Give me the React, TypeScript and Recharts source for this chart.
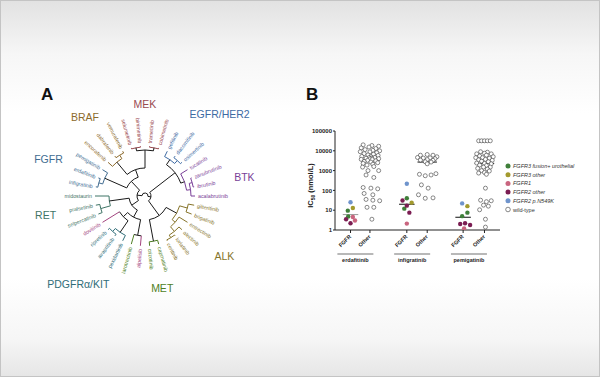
import React from 'react';
import {
  RadarChart, Radar, PolarAngleAxis, Customized,
  ScatterChart, Scatter, XAxis, YAxis, ReferenceLine, Label,
} from 'recharts';

// ---------- panel A: inhibitor tree ----------
const drugs = [
  'alpelisib', 'larotrectinib', 'pexidartinib', 'avapritinib', 'ripretinib', 'dovitinib',
  'selpercatinib', 'pralsetinib', 'midostaurin',
  'infigratinib', 'erdafitinib', 'pemigatinib',
  'encorafenib', 'dabrafenib', 'vemurafenib',
  'selumetinib', 'binimetinib', 'trametinib', 'cobimetinib',
  'gefitinib', 'dacomitinib', 'osimertinib', 'tucatinib',
  'zanubrutinib', 'ibrutinib', 'acalabrutinib',
  'gilteritinib', 'brigatinib', 'entrectinib', 'alectinib', 'lorlatinib', 'ceritinib',
  'capmatinib', 'crizotinib',
];
const drugFamily = [
  'other', 'TRK', 'PDGFRα/KIT', 'PDGFRα/KIT', 'PDGFRα/KIT', 'other',
  'RET', 'RET', 'RET',
  'FGFR', 'FGFR', 'FGFR',
  'BRAF', 'BRAF', 'BRAF',
  'MEK', 'MEK', 'MEK', 'MEK',
  'EGFR/HER2', 'EGFR/HER2', 'EGFR/HER2', 'HER2',
  'BTK', 'BTK', 'BTK',
  'ALK', 'ALK', 'ALK', 'ALK', 'ALK', 'ALK',
  'MET', 'MET',
];
const families = ['MEK', 'BRAF', 'EGFR/HER2', 'FGFR', 'BTK', 'RET', 'ALK', 'MET', 'PDGFRα/KIT'];

// [node radius, clade, ...children]
const tree: any = [3, '',
  [8, '',
    [16, '',
      [24, '',
        [40, '', 'alpelisib', 'larotrectinib'],
        [30, '',
          [44, 'PDGFRα/KIT', 'pexidartinib', [48, 'PDGFRα/KIT', 'avapritinib', 'ripretinib']],
          'dovitinib']],
      [36, 'RET', [46, 'RET', 'selpercatinib', 'pralsetinib'], 'midostaurin']],
    [20, '',
      [44, 'FGFR', [48, 'FGFR', 'infigratinib', 'erdafitinib'], 'pemigatinib'],
      [28, '',
        [44, 'BRAF', 'encorafenib', [48, 'BRAF', 'dabrafenib', 'vemurafenib']],
        [46, '', [49, 'MEK', 'selumetinib', 'binimetinib'], [49, 'MEK', 'trametinib', 'cobimetinib']]]]],
  [6, '',
    [38, '',
      [44, 'EGFR/HER2', 'gefitinib', [48, 'EGFR/HER2', 'dacomitinib', 'osimertinib']],
      [42, 'BTK', 'tucatinib', [46, 'BTK', [49, 'BTK', 'zanubrutinib', 'ibrutinib'], 'acalabrutinib']]],
    [24, '',
      [36, 'ALK', [44, 'ALK', 'gilteritinib', 'brigatinib'],
        [40, 'ALK', 'entrectinib', [46, 'ALK', 'alectinib', [49, 'ALK', 'lorlatinib', 'ceritinib']]]],
      [46, 'MET', 'capmatinib', 'crizotinib']]]];

const familyColor: Record<string, string> = {
  MEK: '#9a4a50', BRAF: '#8c6a2c', 'EGFR/HER2': '#3d6aa3', FGFR: '#416c91', BTK: '#7a3f98',
  HER2: '#7a3f98', RET: '#3f7466', ALK: '#86742a', MET: '#4f7f24', TRK: '#4f7f24',
  'PDGFRα/KIT': '#2f6d78', other: '#a3457f',
};

// ---------- panel B: IC50 scatter ----------
const groupPos = [0.8, 1.8, 3.7, 4.75, 6.6, 7.7];
const groupTicks = ['FGFR', 'Other', 'FGFR', 'Other', 'FGFR', 'Other'];
const drugNames = ['erdafitinib', 'infigratinib', 'pemigatinib'];
const medians = [6, 3400, 20, 2700, 4.4, 2300];
const yTicks = [1, 10, 100, 1000, 10000, 100000];

// [group, offset, IC50]
const fgfr3Fusion = [[0, -0.14, 9.5], [0, -0.12, 4.8], [2, 0, 40], [2, -0.13, 12], [4, 0.22, 7.5], [4, -0.05, 5]];
const fgfr3Other = [[0, 0.12, 13], [2, 0.25, 24], [4, 0.22, 16]];
const fgfr1 = [[0, 0.12, 4.5], [0, 0.23, 3.0], [2, 0, 2.1], [4, 0.05, 1.2]];
const fgfr2Other = [[0, -0.23, 3.5], [0, 0, 2.2], [2, -0.22, 31], [2, 0, 17], [2, 0.13, 7.5], [4, -0.15, 2.0], [4, 0.1, 2.2], [4, 0.36, 1.8]];
const fgfr2N549K = [[0, 0, 25], [2, 0, 215], [4, -0.05, 22]];
const wtErdafitinib = [
  [1, -0.35, 20000], [1, 0.1, 18500], [1, 0.45, 17000], [1, -0.05, 15500], [1, -0.45, 14000], [1, 0.3, 13000],
  [1, -0.25, 11500], [1, 0.15, 10500], [1, 0.5, 10000], [1, -0.5, 9000], [1, 0, 8800], [1, 0.35, 8000],
  [1, -0.3, 7200], [1, 0.18, 6700], [1, -0.1, 6200], [1, 0.42, 5800], [1, -0.42, 5200], [1, 0.05, 5000],
  [1, 0.25, 4600], [1, -0.05, 4500], [1, 0.1, 4200], [1, -0.2, 4200], [1, 0, 3900], [1, 0.45, 4000],
  [1, -0.45, 3700], [1, 0.12, 3600], [1, -0.12, 3300], [1, 0.3, 3100], [1, -0.3, 2900], [1, 0.05, 2700],
  [1, 0.4, 2500], [1, -0.35, 2300], [1, 0.15, 2100], [1, -0.15, 1900], [1, 0.2, 1600], [1, -0.38, 1500],
  [1, -0.1, 1000], [1, 0.45, 1000], [1, -0.2, 600], [1, 0.2, 450], [1, -0.35, 140], [1, 0.05, 130],
  [1, 0.4, 120], [1, -0.3, 70], [1, 0.15, 60], [1, -0.2, 35], [1, 0.15, 32], [1, 0.5, 30],
  [1, -0.15, 14], [1, 0.2, 14], [1, 0.1, 3.5],
];
const wtInfigratinib = [
  [3, -0.35, 6000], [3, 0, 6500], [3, 0.3, 6000], [3, 0.5, 5000], [3, -0.5, 4600], [3, -0.2, 4300],
  [3, 0.15, 4400], [3, 0.4, 4000], [3, -0.35, 3400], [3, 0, 3600], [3, 0.3, 3300], [3, -0.1, 2800],
  [3, 0.2, 2700], [3, 0, 2200], [3, -0.4, 650], [3, -0.1, 550], [3, 0.2, 600], [3, 0.45, 700],
  [3, -0.3, 190], [3, 0.05, 130], [3, -0.45, 60], [3, -0.1, 40], [3, 0.3, 42],
];
const wtPemigatinib = [
  [5, -0.3, 32000], [5, -0.15, 32000], [5, 0, 32000], [5, 0.15, 32000], [5, 0.3, 32000],
  [5, -0.2, 9000], [5, 0.15, 8500], [5, -0.4, 7000], [5, 0, 7500], [5, 0.35, 7000], [5, -0.25, 5500],
  [5, 0.1, 6000], [5, 0.45, 5000], [5, -0.45, 4500], [5, -0.1, 4500], [5, 0.25, 4200], [5, -0.3, 3500],
  [5, 0.05, 3700], [5, 0.4, 3300], [5, -0.15, 3000], [5, 0.2, 2800], [5, -0.4, 2400], [5, 0, 2300],
  [5, 0.35, 2200], [5, -0.25, 1900], [5, 0.1, 1800], [5, -0.05, 1500], [5, 0.3, 1500], [5, -0.35, 1300],
  [5, 0.15, 1200], [5, -0.15, 1000], [5, 0.25, 950], [5, 0, 800], [5, -0.3, 750], [5, 0.1, 650],
  [5, 0.05, 130], [5, -0.2, 32], [5, 0.1, 27], [5, 0.35, 30], [5, -0.05, 18], [5, 0.2, 16],
  [5, -0.25, 10.5], [5, 0.05, 3.5], [5, 0.05, 1.4],
];

const series = [
  { name: 'FGFR3 fusion+ urothelial', pts: fgfr3Fusion, color: '#3f7f3a', italic: true },
  { name: 'FGFR3 other', pts: fgfr3Other, color: '#a39a2e', italic: true },
  { name: 'FGFR1', pts: fgfr1, color: '#c9657f', italic: true },
  { name: 'FGFR2 other', pts: fgfr2Other, color: '#7b1d52', italic: true },
  { name: 'FGFR2 p.N549K', pts: fgfr2N549K, color: '#6f94cc', italic: true },
  { name: 'wild-type', pts: [...wtErdafitinib, ...wtInfigratinib, ...wtPemigatinib], color: '', italic: false },
];

// ---------- tree drawing ----------
const CX = 145;
const CY = 146;
const LEAF_R = 50;
const LABEL_R = 53;
const STEP = 360 / drugs.length;
const START = 180 + drugs.indexOf('midostaurin') * STEP;
const leafAngle = (i: number) => START - i * STEP;
const pt = (r: number, a: number) => {
  const t = (a * Math.PI) / 180;
  return [CX + r * Math.cos(t), CY - r * Math.sin(t)];
};

function drawNode(node: any, out: any[]): { a: number; r: number } {
  if (typeof node === 'string') {
    return { a: leafAngle(drugs.indexOf(node)), r: LEAF_R };
  }
  const [r, clade, ...kids] = node;
  const col = clade ? familyColor[clade] : '#1a1a1a';
  const pos = kids.map((k: any) => drawNode(k, out));
  const aMax = Math.max(...pos.map((p: any) => p.a));
  const aMin = Math.min(...pos.map((p: any) => p.a));
  const [x1, y1] = pt(r, aMax);
  const [x2, y2] = pt(r, aMin);
  out.push(
    <path key={out.length} d={`M${x1},${y1}A${r},${r} 0 ${aMax - aMin > 180 ? 1 : 0} 1 ${x2},${y2}`}
      fill="none" stroke={col} strokeWidth={1} />,
  );
  pos.forEach((p: any, j: number) => {
    const kid = kids[j];
    const c = typeof kid === 'string' ? familyColor[drugFamily[drugs.indexOf(kid)]] : col;
    const [a1, b1] = pt(r, p.a);
    const [a2, b2] = pt(p.r, p.a);
    out.push(<line key={out.length} x1={a1} y1={b1} x2={a2} y2={b2} stroke={c} strokeWidth={1} />);
  });
  return { a: (aMax + aMin) / 2, r };
}

// tucatinib (HER2) sits under the EGFR/HER2 heading
const inFamily = (f: string, i: number) =>
  drugFamily[i] === f || (f === 'EGFR/HER2' && drugFamily[i] === 'HER2');

const TreeBranches = () => {
  const out: any[] = [];
  drawNode(tree, out);
  const labels = families.map((f) => {
    const idx = drugs.map((d, i) => (inFamily(f, i) ? i : -1)).filter((i) => i >= 0);
    const a = leafAngle(idx.reduce((s, i) => s + i, 0) / idx.length);
    const w = f.length * 6.2;
    const r = 92 + (w / 2) * Math.abs(Math.cos((a * Math.PI) / 180));
    const [x, y] = pt(r, a);
    return (
      <text key={f} x={x} y={y} textAnchor="middle" dominantBaseline="central" fontSize={10.5} fill={familyColor[f]}>
        {f}
      </text>
    );
  });
  return <g>{out}{labels}</g>;
};

const LeafTick = (props: any) => {
  const { payload } = props;
  const a = payload.coordinate;
  const [x, y] = pt(LABEL_R, a);
  const left = Math.cos((a * Math.PI) / 180) < -0.01;
  const rot = left ? 180 - a : -a;
  const fam = drugFamily[drugs.indexOf(payload.value)];
  return (
    <text x={x} y={y} transform={`rotate(${rot} ${x} ${y})`} textAnchor={left ? 'end' : 'start'}
      dominantBaseline="central" fontSize={5.3} fill={familyColor[fam]}>
      {payload.value}
    </text>
  );
};

// ---------- scatter helpers ----------
const renderCatTick = (props: any) => {
  const { x, y, payload } = props;
  const i = groupPos.indexOf(payload.value);
  const tx = x + 1;
  const ty = y + 2;
  return (
    <g>
      <text x={0} y={0} transform={`translate(${tx},${ty}) rotate(-45)`} textAnchor="end" fontSize={5.5}
        fontWeight="bold" fill="#222">
        {groupTicks[i]}
      </text>
    </g>
  );
};

const groupCenters = drugNames.map((_, i) => (groupPos[2 * i] + groupPos[2 * i + 1]) / 2 - 0.25);

const renderGroupTick = (props: any) => {
  const { x, y, payload } = props;
  const i = groupCenters.indexOf(payload.value);
  return (
    <g>
      <line x1={x - 18} x2={x + 18} y1={y + 2} y2={y + 2} stroke="#a0a0a0" strokeWidth={1.4} />
      <text x={x} y={y + 10} textAnchor="middle" fontSize={5.5} fontWeight="bold" fill="#222">
        {drugNames[i]}
      </text>
    </g>
  );
};

const YLabel = (props: any) => {
  const { viewBox } = props;
  const x = viewBox.x + 13;
  const y = viewBox.y + viewBox.height / 2 + 5;
  return (
    <text x={x} y={y} transform={`rotate(-90 ${x} ${y})`} textAnchor="middle" fontSize={7.5}
      fontWeight="bold" fill="#222">
      <tspan>IC</tspan>
      <tspan fontSize={5} dy={2}>50</tspan>
      <tspan dy={-2}> (nmol/L)</tspan>
    </text>
  );
};

const dot = (color: string) => (props: any) => {
  const { cx, cy } = props;
  if (!color) {
    return <circle cx={cx} cy={cy} r={2} fill="#fff" stroke="#3a3a3a" strokeWidth={0.6} />;
  }
  return <circle cx={cx} cy={cy} r={2.2} fill={color} />;
};

export default function App() {
  const radarData = drugs.map((d) => ({ drug: d, v: 1 }));
  const groupData = groupCenters.map((c) => ({ x: c, y: 10 }));
  return (
    <div
      style={{
        position: 'absolute', left: 0, top: 0, width: 600, height: 377, boxSizing: 'border-box',
        border: '1px solid #c4c4c4',
        background: 'linear-gradient(to bottom, #e2e2e2 0%, #f6f6f6 14%, #ffffff 30%, #ffffff 74%, #f6f6f6 90%, #e6e6e6 100%)',
        fontFamily: '"Liberation Sans", Arial, sans-serif', overflow: 'hidden',
      }}
    >
      <div style={{ position: 'absolute', left: 40, top: 84, fontSize: 17, fontWeight: 'bold', color: '#111' }}>A</div>
      <div style={{ position: 'absolute', left: 305, top: 84, fontSize: 17, fontWeight: 'bold', color: '#111' }}>B</div>

      <div style={{ position: 'absolute', left: -1, top: 49 }}>
        <RadarChart width={290} height={300} data={radarData} cx={CX} cy={CY} outerRadius={LEAF_R}
          startAngle={START} endAngle={START - 360} margin={{ top: 0, right: 0, bottom: 0, left: 0 }}>
          <PolarAngleAxis dataKey="drug" tick={<LeafTick />} tickLine={false} axisLine={false} />
          <Radar dataKey="v" stroke="none" fill="none" isAnimationActive={false} />
          <Customized component={TreeBranches} />
        </RadarChart>
      </div>

      <div style={{ position: 'absolute', left: 299, top: 79 }}>
        <ScatterChart width={300} height={200} margin={{ top: 51, right: 100, bottom: 0, left: 0 }}>
          <XAxis xAxisId="cat" type="number" dataKey="x" domain={[0, 8.5]} ticks={groupPos} interval={0}
            height={20} tickSize={3} tickLine={{ stroke: '#222' }} axisLine={{ stroke: '#222' }}
            tick={renderCatTick} />
          <XAxis xAxisId="grp" type="number" dataKey="x" domain={[0, 8.5]} ticks={groupCenters} interval={0}
            height={30} tickSize={0} axisLine={false} tickLine={false} tick={renderGroupTick} />
          <YAxis type="number" dataKey="y" scale="log" domain={[1, 100000]} ticks={yTicks} interval={0}
            allowDataOverflow width={35} tickSize={2} tickMargin={1} tickLine={{ stroke: '#222' }}
            axisLine={{ stroke: '#222' }} tick={{ fontSize: 6, fontWeight: 'bold', fill: '#222' }}>
            <Label content={YLabel} />
          </YAxis>
          <Scatter xAxisId="grp" data={groupData} isAnimationActive={false} shape={() => <g />} />
          {series.map((s) => (
            <Scatter key={s.name} xAxisId="cat" name={s.name} isAnimationActive={false}
              data={s.pts.map(([g, dx, v]) => ({ x: groupPos[g] + dx, y: v }))}
              shape={dot(s.color)} />
          ))}
          {medians.map((m, i) => {
            const hw = i % 2 === 0 ? 0.4 : 0.5;
            return (
              <ReferenceLine key={i} xAxisId="cat" stroke={i === 0 ? '#9a9a9a' : '#111'} strokeWidth={1}
                segment={[{ x: groupPos[i] - hw, y: m }, { x: groupPos[i] + hw, y: m }]} />
            );
          })}
        </ScatterChart>
      </div>

      <svg style={{ position: 'absolute', left: 502, top: 158 }} width={96} height={58}>
        {series.map((s, i) => (
          <g key={s.name}>
            {s.color
              ? <circle cx={5} cy={7 + i * 8.7} r={2.5} fill={s.color} />
              : <circle cx={5} cy={7 + i * 8.7} r={2.3} fill="#fff" stroke="#3a3a3a" strokeWidth={0.6} />}
            <text x={10} y={7 + i * 8.7} dominantBaseline="central" fontSize={5.5}
              fontStyle={s.italic ? 'italic' : 'normal'} fill="#333">
              {s.name}
            </text>
          </g>
        ))}
      </svg>
    </div>
  );
}
